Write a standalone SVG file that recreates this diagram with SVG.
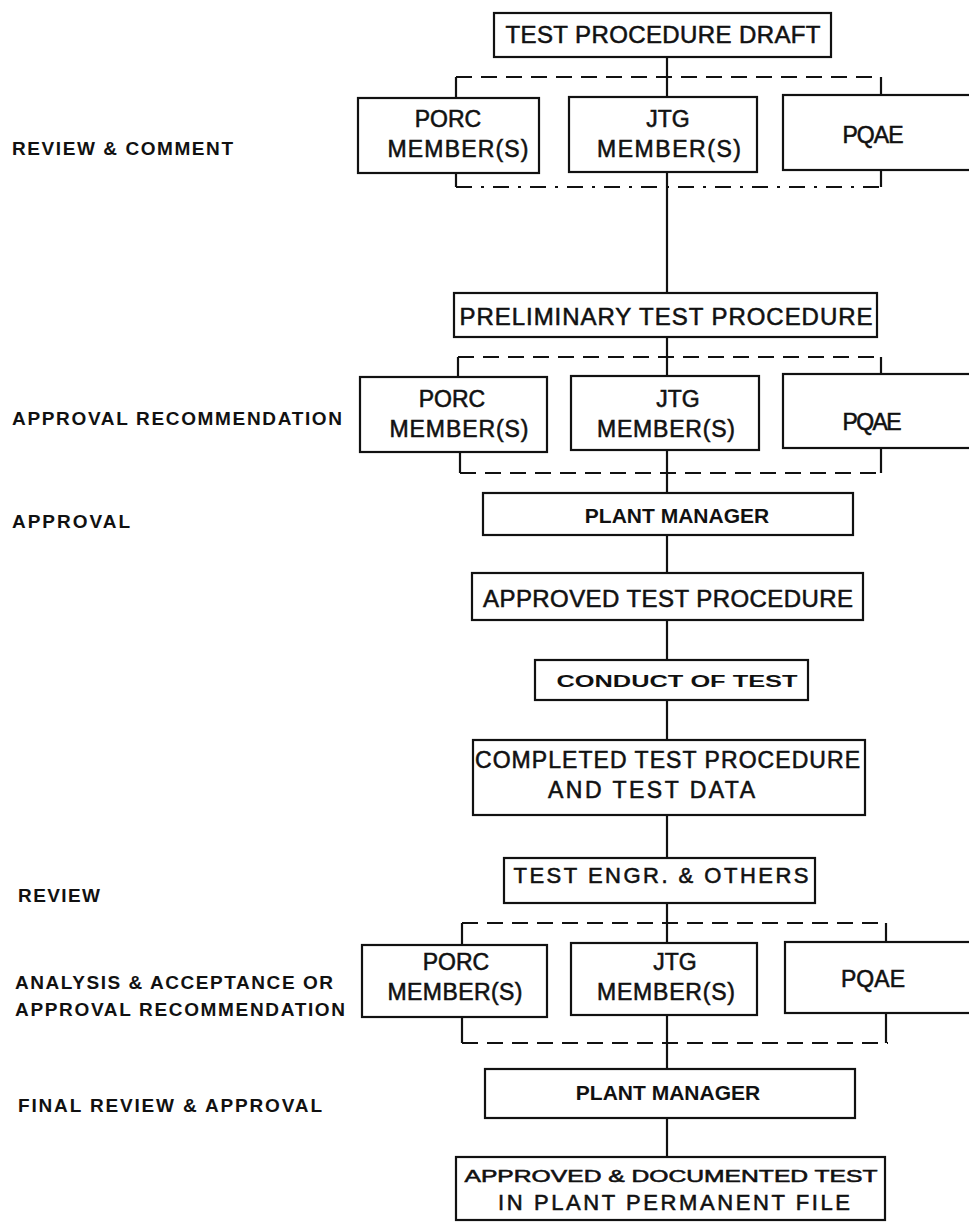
<svg xmlns="http://www.w3.org/2000/svg" width="969" height="1222" viewBox="0 0 969 1222">
<style>
.box{fill:#fff;stroke:#111;stroke-width:2.2}
.ln{stroke:#111;stroke-width:2.2;fill:none}
.dash{stroke:#111;stroke-width:2.2;stroke-dasharray:16 9;fill:none}
.t{font-family:"Liberation Sans",Arial,sans-serif;fill:#111;stroke:#111;stroke-width:0.55;text-anchor:middle}
.b{font-weight:bold;stroke-width:0}
.lbl{font-family:"Liberation Sans",Arial,sans-serif;font-weight:bold;fill:#111}
</style>
<rect width="969" height="1222" fill="#fff"/>
<g id="connectors">
<line class="ln" x1="667" y1="57" x2="667" y2="97"/>
<line class="dash" x1="456" y1="77" x2="881" y2="77"/>
<line class="ln" x1="456" y1="77" x2="456" y2="98"/>
<line class="ln" x1="881" y1="77" x2="881" y2="95"/>
<line class="dash" x1="456" y1="187" x2="881" y2="187" style="stroke-dasharray:16 9 3 9"/>
<line class="ln" x1="456" y1="173" x2="456" y2="187"/>
<line class="ln" x1="881" y1="170" x2="881" y2="187"/>
<line class="ln" x1="667" y1="172" x2="667" y2="293"/>
<line class="ln" x1="667" y1="337" x2="667" y2="376"/>
<line class="dash" x1="458" y1="357" x2="881" y2="357"/>
<line class="ln" x1="458" y1="357" x2="458" y2="377"/>
<line class="ln" x1="881" y1="357" x2="881" y2="374"/>
<line class="dash" x1="460" y1="473" x2="883" y2="473"/>
<line class="ln" x1="460" y1="452" x2="460" y2="473"/>
<line class="ln" x1="881" y1="448" x2="881" y2="473"/>
<line class="ln" x1="667" y1="450" x2="667" y2="493"/>
<line class="ln" x1="667" y1="535" x2="667" y2="573"/>
<line class="ln" x1="667" y1="620" x2="667" y2="660"/>
<line class="ln" x1="667" y1="700" x2="667" y2="740"/>
<line class="ln" x1="667" y1="815" x2="667" y2="858"/>
<line class="ln" x1="667" y1="903" x2="667" y2="943"/>
<line class="dash" x1="462" y1="923" x2="886" y2="923"/>
<line class="ln" x1="462" y1="923" x2="462" y2="945"/>
<line class="ln" x1="886" y1="923" x2="886" y2="942"/>
<line class="dash" x1="462" y1="1043" x2="888" y2="1043"/>
<line class="ln" x1="462" y1="1017" x2="462" y2="1043"/>
<line class="ln" x1="886" y1="1013" x2="886" y2="1043"/>
<line class="ln" x1="667" y1="1015" x2="667" y2="1069"/>
<line class="ln" x1="667" y1="1118" x2="667" y2="1157"/>
</g>
<g id="labels" font-size="19">
<text class="lbl" x="12" y="155" textLength="221">REVIEW &amp; COMMENT</text>
<text class="lbl" x="12" y="425" textLength="330">APPROVAL RECOMMENDATION</text>
<text class="lbl" x="12" y="528" textLength="118">APPROVAL</text>
<text class="lbl" x="18" y="902" textLength="82">REVIEW</text>
<text class="lbl" x="15" y="989" textLength="318">ANALYSIS &amp; ACCEPTANCE OR</text>
<text class="lbl" x="15" y="1016" textLength="330">APPROVAL RECOMMENDATION</text>
<text class="lbl" x="18" y="1112" textLength="304">FINAL REVIEW &amp; APPROVAL</text>
</g>
<g id="nodes" font-size="23">
<g id="n-draft"><rect class="box" x="494" y="13" width="337" height="44"/><text class="t" x="663" y="43" font-size="24" textLength="315">TEST PROCEDURE DRAFT</text></g>
<g id="n-porc1"><rect class="box" x="358" y="98" width="181" height="75"/><text class="t" x="448" y="127">PORC</text><text class="t" x="458" y="157" textLength="141">MEMBER(S)</text></g>
<g id="n-jtg1"><rect class="box" x="569" y="97" width="188" height="75"/><text class="t" x="668" y="127">JTG</text><text class="t" x="669" y="157" textLength="144">MEMBER(S)</text></g>
<g id="n-pqae1"><rect class="box" x="783" y="95" width="192" height="75"/><text class="t" x="873" y="143" textLength="61">PQAE</text></g>
<g id="n-prelim"><rect class="box" x="454" y="293" width="423" height="44"/><text class="t" x="666" y="325" font-size="24" textLength="413">PRELIMINARY TEST PROCEDURE</text></g>
<g id="n-porc2"><rect class="box" x="360" y="377" width="187" height="75"/><text class="t" x="452" y="407">PORC</text><text class="t" x="459" y="437" textLength="139">MEMBER(S)</text></g>
<g id="n-jtg2"><rect class="box" x="571" y="376" width="188" height="74"/><text class="t" x="678" y="407">JTG</text><text class="t" x="666" y="437" textLength="138">MEMBER(S)</text></g>
<g id="n-pqae2"><rect class="box" x="783" y="374" width="192" height="74"/><text class="t" x="872" y="430" textLength="59">PQAE</text></g>
<g id="n-pm1"><rect class="box" x="483" y="493" width="370" height="42"/><text class="t b" x="677" y="523" font-size="21">PLANT MANAGER</text></g>
<g id="n-approved"><rect class="box" x="472" y="573" width="391" height="47"/><text class="t" x="668" y="607" font-size="24" textLength="370">APPROVED TEST PROCEDURE</text></g>
<g id="n-conduct"><rect class="box" x="535" y="660" width="273" height="40"/><text class="t b" x="677" y="687" font-size="16" textLength="241" lengthAdjust="spacingAndGlyphs">CONDUCT OF TEST</text></g>
<g id="n-completed"><rect class="box" x="473" y="740" width="392" height="75"/><text class="t" x="475" y="768" style="text-anchor:start" textLength="385">COMPLETED TEST PROCEDURE</text><text class="t" x="548" y="798" style="text-anchor:start" textLength="207">AND TEST DATA</text></g>
<g id="n-engr"><rect class="box" x="504" y="858" width="311" height="45"/><text class="t" x="661" y="883" font-size="22" textLength="295">TEST ENGR. &amp; OTHERS</text></g>
<g id="n-porc3"><rect class="box" x="362" y="945" width="185" height="72"/><text class="t" x="456" y="970">PORC</text><text class="t" x="455" y="1000" textLength="135">MEMBER(S)</text></g>
<g id="n-jtg3"><rect class="box" x="571" y="943" width="186" height="72"/><text class="t" x="675" y="970">JTG</text><text class="t" x="666" y="1000" textLength="138">MEMBER(S)</text></g>
<g id="n-pqae3"><rect class="box" x="785" y="942" width="190" height="71"/><text class="t" x="873" y="987" textLength="64">PQAE</text></g>
<g id="n-pm2"><rect class="box" x="485" y="1069" width="370" height="49"/><text class="t b" x="668" y="1100" font-size="21">PLANT MANAGER</text></g>
<g id="n-final"><rect class="box" x="456" y="1157" width="429" height="63"/><text class="t" x="671" y="1182" font-size="17" textLength="413" lengthAdjust="spacingAndGlyphs">APPROVED &amp; DOCUMENTED TEST</text><text class="t" x="674" y="1210" font-size="22" textLength="352">IN PLANT PERMANENT FILE</text></g>
</g>
</svg>
